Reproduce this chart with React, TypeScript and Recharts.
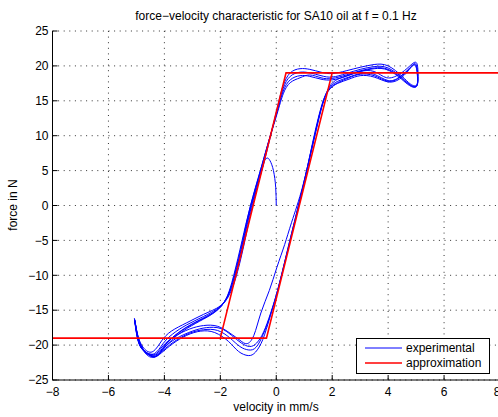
import React from 'react';
import { LineChart, Line, XAxis, YAxis, CartesianGrid } from 'recharts';

type Pt = [number, number];

const xTicks = [-8, -6, -4, -2, 0, 2, 4, 6, 8];
const yTicks = [-25, -20, -15, -10, -5, 0, 5, 10, 15, 20, 25];

// start of the measurement: from rest up to the first turning point
const startArc: Pt[] = [
  [0, 0], [-0.02, 2.6], [-0.1, 5], [-0.22, 6.4], [-0.33, 6.8], [-0.42, 6.4], [-0.52, 5.0],
];

const cycle1: Pt[] = [
  [-0.85, 0], [-1.12, -5], [-1.42, -10], [-1.68, -12.8], [-2.0, -14.4], [-2.6, -15.6], [-3.2, -16.8],
  [-3.75, -18.0], [-4.1, -19.4], [-4.4, -20.9], [-4.7, -20.6], [-4.95, -18.6], [-5.07, -16.2],
  [-4.97, -18.9], [-4.78, -20.6], [-4.5, -21.4], [-4.25, -21.5], [-4.0, -20.4], [-3.6, -19.1],
  [-3.0, -18.0], [-2.5, -17.5], [-2.0, -17.6], [-1.6, -18.6], [-1.25, -19.7], [-0.95, -20.2],
  [-0.7, -19.7], [-0.45, -18.1], [-0.2, -15.4], [0.1, -11.4], [0.5, -5], [0.95, 2.4], [1.35, 9.4],
  [1.65, 14.4], [1.9, 17.0], [2.2, 18.1], [2.6, 18.7], [3.0, 19.2], [3.5, 19.2], [3.95, 18.3],
  [4.4, 18.8], [4.75, 19.9], [5.0, 20.5], [5.07, 19.0], [5.03, 17.3], [4.8, 17.4], [4.5, 18.5],
  [4.0, 20.0], [3.5, 20.2], [3.0, 19.8], [2.5, 19.3], [2.0, 18.9], [1.6, 19.1], [1.2, 19.5],
  [0.85, 19.6], [0.5, 19.0], [0.25, 17.2], [0.05, 14.2], [-0.25, 9.2], [-0.52, 5],
];

const cycle2: Pt[] = [
  [-0.88, 0], [-1.16, -5], [-1.46, -10], [-1.72, -12.9], [-2.05, -14.6], [-2.6, -15.9], [-3.2, -17.1],
  [-3.7, -18.4], [-4.05, -19.8], [-4.35, -21.2], [-4.7, -20.9], [-4.95, -18.8], [-5.06, -16.4],
  [-4.96, -19.0], [-4.75, -20.8], [-4.5, -21.5], [-4.3, -21.6], [-4.05, -20.8], [-3.65, -19.5],
  [-3.1, -18.3], [-2.6, -17.8], [-2.1, -17.9], [-1.65, -19.0], [-1.3, -20.2], [-0.98, -20.7],
  [-0.72, -20.3], [-0.47, -18.5], [-0.22, -15.8], [0.07, -11.8], [0.47, -5.3], [0.92, 2.1],
  [1.32, 9.1], [1.62, 14.1], [1.88, 16.7], [2.2, 17.8], [2.6, 18.4], [3.0, 18.9], [3.5, 18.8],
  [4.0, 17.9], [4.4, 18.4], [4.75, 19.6], [4.98, 20.3], [5.06, 18.7], [5.02, 17.1], [4.78, 17.3],
  [4.5, 18.3], [4.0, 19.7], [3.5, 19.9], [3.0, 19.5], [2.5, 18.9], [2.0, 18.4], [1.6, 18.6],
  [1.2, 19.0], [0.85, 19.1], [0.5, 18.5], [0.25, 16.8], [0.05, 13.8], [-0.28, 9.0], [-0.55, 5],
];

const cycle3: Pt[] = [
  [-0.9, 0], [-1.18, -5], [-1.48, -10], [-1.75, -13.1], [-2.1, -14.9], [-2.65, -16.2], [-3.2, -17.4],
  [-3.65, -18.7], [-4.0, -20.1], [-4.3, -21.4], [-4.65, -21.1], [-4.93, -19.0], [-5.05, -16.6],
  [-4.94, -19.2], [-4.72, -20.9], [-4.48, -21.6], [-4.32, -21.7], [-4.1, -21.1], [-3.7, -19.8],
  [-3.2, -18.6], [-2.7, -18.0], [-2.2, -18.2], [-1.7, -19.5], [-1.35, -20.9], [-1.0, -21.5],
  [-0.74, -21.0], [-0.48, -19.2], [-0.24, -16.2], [0.05, -12.2], [0.45, -5.6], [0.9, 1.8],
  [1.3, 8.8], [1.6, 13.8], [1.86, 16.4], [2.2, 17.5], [2.6, 18.1], [3.0, 18.6], [3.5, 18.4],
  [4.0, 17.7], [4.4, 18.1], [4.72, 19.3], [4.96, 20.1], [5.05, 18.4], [5.0, 17.0], [4.76, 17.2],
  [4.48, 18.1], [4.0, 19.4], [3.5, 19.6], [3.0, 19.2], [2.5, 18.5], [2.0, 18.0], [1.6, 18.1],
  [1.2, 18.5], [0.85, 18.6], [0.5, 18.0], [0.25, 16.4], [0.03, 13.4], [-0.3, 8.8], [-0.57, 5],
];

const cycle4: Pt[] = [
  [-0.92, 0], [-1.2, -5], [-1.5, -10], [-1.78, -13.3], [-2.15, -15.1], [-2.7, -16.4], [-3.25, -17.6],
  [-3.7, -18.9], [-4.02, -20.3], [-4.3, -21.6], [-4.62, -21.2], [-4.92, -19.2], [-5.05, -16.5],
  [-4.95, -19.1], [-4.74, -20.8], [-4.5, -21.3], [-4.28, -21.2], [-4.05, -20.1], [-3.65, -18.8],
  [-3.1, -17.7], [-2.6, -17.2], [-2.1, -17.3], [-1.65, -18.3], [-1.3, -19.3], [-1.05, -19.8],
  [-0.8, -18.6], [-0.55, -15.4], [-0.25, -12.2], [0.02, -8.9], [0.3, -5.6], [0.55, -2.4],
  [0.95, 2.8], [1.3, 9.0], [1.6, 14.0], [1.86, 16.5], [2.2, 17.6], [2.6, 18.3], [3.0, 18.8],
  [3.5, 18.6], [4.0, 17.8], [4.4, 18.3], [4.74, 19.5], [4.97, 20.2], [5.05, 18.6], [5.01, 17.1],
  [4.77, 17.3], [4.49, 18.2], [4.0, 19.5], [3.5, 19.7], [3.0, 19.3], [2.5, 18.7], [2.0, 18.2],
  [1.6, 18.3], [1.2, 18.7], [0.85, 18.3], [0.5, 17.6], [0.25, 16.0], [0.02, 13.0], [-0.32, 8.5],
  [-0.6, 4.5], [-0.95, -0.5], [-1.22, -5], [-1.52, -10], [-1.8, -13.4], [-2.2, -15.3],
  [-2.75, -16.6], [-3.3, -17.9], [-3.72, -19.2], [-4.05, -20.6], [-4.35, -21.7], [-4.65, -21.3],
  [-4.92, -19.3], [-5.07, -16.2],
];

// piecewise linear hysteresis model
const approximation: Pt[] = [
  [-8, -19], [-0.35, -19], [2, 19], [8, 19], [0.35, 19], [-2, -19],
];

const toPoints = (pts: Pt[]) => pts.map(([x, y]) => ({ x, y }));
const experimentalData = toPoints([...startArc, ...cycle1, ...cycle2, ...cycle3, ...cycle4]);
const approximationData = toPoints(approximation);

const font = '"Liberation Sans", Arial, Helvetica, sans-serif';
const fmt = (v: number) => (v < 0 ? `\u2212${-v}` : `${v}`);
const tickStyle = { fill: '#000', fontSize: 12, fontFamily: font };

export default function App() {
  return (
    <div style={{ position: 'absolute', left: 0, top: 0, width: 498, height: 417, overflow: 'hidden', background: '#fff' }}>
      <LineChart width={500} height={417} margin={{ top: 31, right: 0, bottom: 0, left: 0 }}>
        <CartesianGrid stroke="#333" strokeDasharray="1 4.6" />
        <XAxis
          dataKey="x"
          type="number"
          domain={[-8, 8]}
          ticks={xTicks}
          allowDataOverflow
          height={37}
          tickSize={-5}
          tickMargin={12}
          tickFormatter={fmt}
          tick={tickStyle}
          axisLine={{ stroke: '#000' }}
          tickLine={{ stroke: '#000' }}
        />
        <XAxis
          xAxisId="top"
          orientation="top"
          type="number"
          domain={[-8, 8]}
          ticks={xTicks}
          height={0}
          tickSize={-5}
          tick={false}
          axisLine={{ stroke: '#000' }}
          tickLine={{ stroke: '#000' }}
        />
        <YAxis
          type="number"
          domain={[-25, 25]}
          ticks={yTicks}
          allowDataOverflow
          width={52.5}
          tickSize={-5}
          tickMargin={9}
          tickFormatter={fmt}
          tick={tickStyle}
          axisLine={{ stroke: '#000' }}
          tickLine={{ stroke: '#000' }}
        />
        <YAxis
          yAxisId="right"
          orientation="right"
          type="number"
          domain={[-25, 25]}
          ticks={yTicks}
          width={0}
          tickSize={-5}
          tick={false}
          axisLine={{ stroke: '#000' }}
          tickLine={{ stroke: '#000' }}
        />
        <Line
          data={experimentalData}
          dataKey="y"
          name="experimental"
          type="natural"
          stroke="#0000ff"
          strokeWidth={1}
          dot={false}
          isAnimationActive={false}
        />
        <Line
          data={approximationData}
          dataKey="y"
          name="approximation"
          type="linear"
          stroke="#ff0000"
          strokeWidth={1.6}
          dot={false}
          isAnimationActive={false}
        />
      </LineChart>
      <svg width={498} height={417} style={{ position: 'absolute', left: 0, top: 0, pointerEvents: 'none' }} fontFamily={font} fontSize={12}>
        <text x={276} y={20} textAnchor="middle" fill="#000">force−velocity characteristic for SA10 oil at f = 0.1 Hz</text>
        <text x={276} y={411} textAnchor="middle" fill="#000">velocity in mm/s</text>
        <text transform="translate(17,205) rotate(-90)" textAnchor="middle" fill="#000">force in N</text>
        <rect x={356.5} y={338.5} width={133} height={35} fill="#fff" stroke="#000" strokeWidth={1} />
        <line x1={365} x2={402} y1={348} y2={348} stroke="#0000ff" strokeWidth={1} />
        <text x={406} y={352} fill="#000">experimental</text>
        <line x1={365} x2={402} y1={363} y2={363} stroke="#ff0000" strokeWidth={1.6} />
        <text x={406} y={367} fill="#000">approximation</text>
      </svg>
    </div>
  );
}
